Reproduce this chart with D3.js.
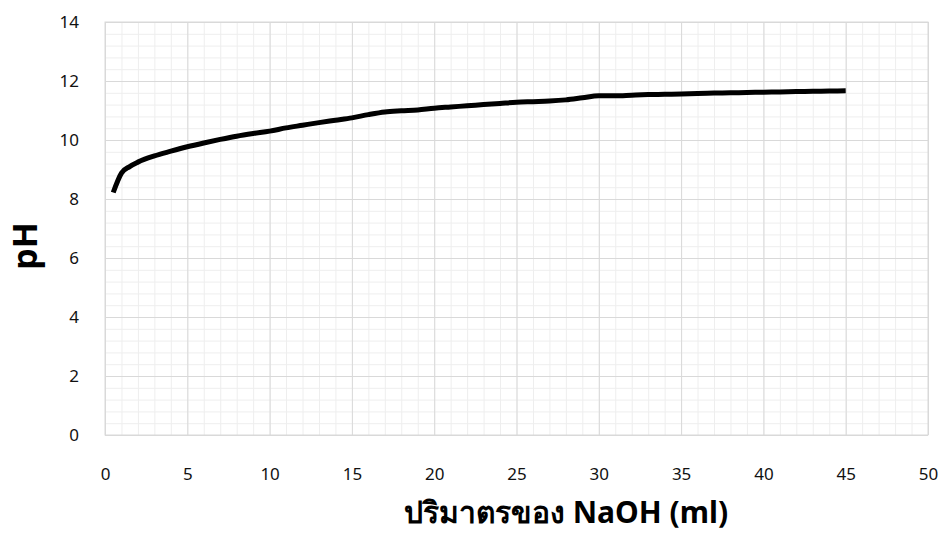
<!DOCTYPE html>
<html>
<head>
<meta charset="utf-8">
<script src="https://cdn.jsdelivr.net/npm/d3@7"></script>
<style>
  body { margin: 0; background: #fff; }
  text { font-family: "Noto Sans", "DejaVu Sans", sans-serif; }
</style>
</head>
<body>
<div id="chart"></div>
<script>
// volume of NaOH added (ml)
var volume = [0.5, 1, 1.5, 2, 3, 4, 5, 6, 7, 8, 9, 10, 11, 12, 13, 14, 15, 16, 17, 18, 19, 20,
  21, 22, 23, 24, 25, 26, 27, 28, 29, 30, 31, 32, 33, 34, 35, 36, 37, 38, 39, 40, 41, 42, 43, 44, 45];
// measured pH
var ph = [8.22, 8.88, 9.1, 9.25, 9.46, 9.62, 9.77, 9.9, 10.02, 10.13, 10.22, 10.3, 10.41, 10.5, 10.59,
  10.67, 10.75, 10.86, 10.95, 10.99, 11.02, 11.08, 11.12, 11.16, 11.2, 11.24, 11.28, 11.3, 11.32, 11.36,
  11.43, 11.5, 11.5, 11.52, 11.54, 11.55, 11.56, 11.58, 11.59, 11.6, 11.61, 11.62, 11.63, 11.64, 11.65,
  11.66, 11.67];
var xTicks = [0, 5, 10, 15, 20, 25, 30, 35, 40, 45, 50];
var yTicks = [0, 2, 4, 6, 8, 10, 12, 14];

var svgWidth = 941;
var svgHeight = 534;
var margin = { top: 22, right: 13, bottom: 99, left: 105 };
var width = svgWidth - margin.left - margin.right;
var height = svgHeight - margin.top - margin.bottom;

var svg = d3.select("#chart")
  .append("svg")
  .attr("width", svgWidth)
  .attr("height", svgHeight);

var g = svg.append("g")
  .attr("transform", `translate(${margin.left}, ${margin.top})`);

var x = d3.scaleLinear().domain([0, 50]).range([0, width]);
var y = d3.scaleLinear().domain([0, 14]).range([height, 0]);

// minor grid (1 ml, 0.4 pH)
g.append("g")
  .attr("transform", `translate(0, ${height})`)
  .call(d3.axisBottom(x).tickValues(d3.range(0, 51, 1)).tickSize(-height).tickFormat(""))
  .call(s => s.select(".domain").remove())
  .selectAll("line").attr("stroke", "#eeeeee");

g.append("g")
  .call(d3.axisLeft(y).tickValues(d3.range(0, 36).map(i => i * 0.4)).tickSize(-width).tickFormat(""))
  .call(s => s.select(".domain").remove())
  .selectAll("line").attr("stroke", "#eeeeee");

// major grid
g.append("g")
  .attr("transform", `translate(0, ${height})`)
  .call(d3.axisBottom(x).tickValues(xTicks).tickSize(-height).tickFormat(""))
  .call(s => s.select(".domain").remove())
  .selectAll("line").attr("stroke", "#d9d9d9");
g.append("g")
  .call(d3.axisLeft(y).tickValues(yTicks).tickSize(-width).tickFormat(""))
  .call(s => s.select(".domain").remove())
  .selectAll("line").attr("stroke", "#d9d9d9");

g.append("rect")
  .attr("width", width)
  .attr("height", height)
  .attr("fill", "none")
  .attr("stroke", "#d9d9d9");

// tick labels
var xAxis = g.append("g")
  .attr("transform", `translate(0, ${height})`)
  .call(d3.axisBottom(x).tickValues(xTicks).tickSize(0).tickPadding(33));
xAxis.select(".domain").remove();
xAxis.selectAll("text").attr("font-size", 17).attr("fill", "#111")
  .style("font-family", "'Noto Sans', sans-serif");

var yAxis = g.append("g")
  .call(d3.axisLeft(y).tickValues(yTicks).tickSize(0).tickPadding(26));
yAxis.select(".domain").remove();
yAxis.selectAll("text").attr("font-size", 17).attr("fill", "#111")
  .style("font-family", "'Noto Sans', sans-serif");

// curve
var data = volume.map((v, i) => ({ v: v, ph: ph[i] }));
g.append("path")
  .datum(data)
  .attr("fill", "none")
  .attr("stroke", "#000")
  .attr("stroke-width", 5)
  .attr("stroke-linejoin", "round")
  .attr("d", d3.line().x(d => x(d.v)).y(d => y(d.ph)).curve(d3.curveMonotoneX));

// axis titles
svg.append("text")
  .attr("transform", "translate(37, 246) rotate(-90)")
  .attr("text-anchor", "middle")
  .attr("font-size", 34)
  .attr("font-weight", "bold")
  .text("pH");

svg.append("text")
  .attr("x", 566)
  .attr("y", 523)
  .attr("text-anchor", "middle")
  .attr("font-size", 30)
  .attr("font-weight", "bold")
  .text("ปริมาตรของ NaOH (ml)");
</script>
</body>
</html>
